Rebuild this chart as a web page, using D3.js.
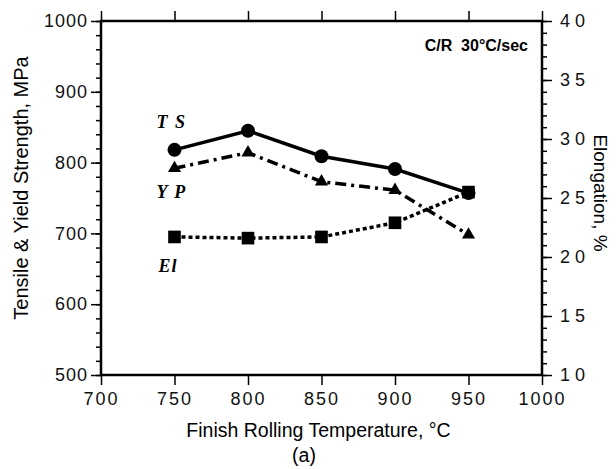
<!DOCTYPE html>
<html>
<head>
<meta charset="utf-8">
<script src="https://cdn.jsdelivr.net/npm/d3@7"></script>
<style>
  body { margin: 0; background: #fff; }
  svg { display: block; font-family: "Liberation Sans", Arial, sans-serif; }
</style>
</head>
<body>
<svg id="chart"></svg>
<script>
// data
const temps = [750, 800, 850, 900, 950];
const tsValues = [818, 845, 809, 791, 757];   // tensile strength, MPa
const ypValues = [792, 814, 773, 761, 698];   // yield point, MPa
const elValues = [21.7, 21.6, 21.7, 22.9, 25.5]; // elongation, %

const xTicks = [700, 750, 800, 850, 900, 950, 1000];
const leftTicks = [500, 600, 700, 800, 900, 1000];
const rightTicks = [10, 15, 20, 25, 30, 35, 40];

const width = 616, height = 469;
const margin = { top: 21, right: 74, bottom: 94, left: 101 };

const svg = d3.select('#chart')
  .attr('width', width)
  .attr('height', height);

const x = d3.scaleLinear().domain([700, 1000]).range([margin.left, width - margin.right]);
const y = d3.scaleLinear().domain([500, 1000]).range([height - margin.bottom, margin.top]);
const y2 = d3.scaleLinear().domain([10, 40]).range([height - margin.bottom, margin.top]);

const bottomY = height - margin.bottom;
const rightX = width - margin.right;
const fmt = d3.format('d');

// minor ticks
svg.append('g')
  .attr('transform', `translate(${margin.left},0)`)
  .call(d3.axisLeft(y).tickValues(d3.range(500, 1001, 20)).tickSize(5).tickFormat(''));
svg.append('g')
  .attr('transform', `translate(${rightX},0)`)
  .call(d3.axisRight(y2).tickValues(d3.range(10, 41, 1)).tickSize(5).tickFormat(''));

// major ticks + labels
const leftAxis = svg.append('g')
  .attr('transform', `translate(${margin.left},0)`)
  .call(d3.axisLeft(y).tickValues(leftTicks).tickSize(10).tickPadding(3).tickFormat(fmt));

const rightAxis = svg.append('g')
  .attr('transform', `translate(${rightX},0)`)
  .call(d3.axisRight(y2).tickValues(rightTicks).tickSize(10).tickPadding(8).tickFormat(fmt));

const bottomAxis = svg.append('g')
  .attr('transform', `translate(0,${bottomY})`)
  .call(d3.axisBottom(x).tickValues(xTicks).tickSize(10).tickPadding(7).tickFormat(fmt));

svg.append('g')
  .attr('transform', `translate(0,${margin.top})`)
  .call(d3.axisTop(x).tickValues(xTicks).tickSize(10).tickFormat(''));

svg.selectAll('.domain').remove();
svg.selectAll('.tick line').attr('stroke', '#000').attr('stroke-width', 1.5);
svg.selectAll('.tick text')
  .attr('fill', '#111')
  .style('font-size', '18px')
  .style('font-family', '"Liberation Sans", Arial, sans-serif');
leftAxis.selectAll('text').style('letter-spacing', '1px');
bottomAxis.selectAll('text').style('letter-spacing', '2px');
rightAxis.selectAll('text').style('letter-spacing', '5px');

// frame
svg.append('rect')
  .attr('x', margin.left)
  .attr('y', margin.top)
  .attr('width', rightX - margin.left)
  .attr('height', bottomY - margin.top)
  .attr('fill', 'none')
  .attr('stroke', '#000')
  .attr('stroke-width', 2.5);

// series lines
const lineL = d3.line().x((d, i) => x(temps[i])).y(d => y(d));
const lineR = d3.line().x((d, i) => x(temps[i])).y(d => y2(d));

svg.append('path').datum(tsValues)
  .attr('d', lineL).attr('fill', 'none').attr('stroke', '#000')
  .attr('stroke-width', 3.5);

svg.append('path').datum(ypValues)
  .attr('d', lineL).attr('fill', 'none').attr('stroke', '#000')
  .attr('stroke-width', 3.5).attr('stroke-dasharray', '11,5,3,5');

svg.append('path').datum(elValues)
  .attr('d', lineR).attr('fill', 'none').attr('stroke', '#000')
  .attr('stroke-width', 3.5).attr('stroke-dasharray', '4,3');

// markers
svg.append('g').selectAll('circle')
  .data(tsValues).enter().append('circle')
  .attr('cx', (d, i) => x(temps[i]))
  .attr('cy', d => y(d))
  .attr('r', 7)
  .attr('fill', '#000');

const tri = d3.symbol().type(d3.symbolTriangle).size(75);
svg.append('g').selectAll('path')
  .data(ypValues).enter().append('path')
  .attr('d', tri)
  .attr('transform', (d, i) => `translate(${x(temps[i])},${y(d)})`)
  .attr('fill', '#000');

const sq = d3.symbol().type(d3.symbolSquare).size(160);
svg.append('g').selectAll('path')
  .data(elValues).enter().append('path')
  .attr('d', sq)
  .attr('transform', (d, i) => `translate(${x(temps[i])},${y2(d)})`)
  .attr('fill', '#000');

// series labels
const serif = '"Liberation Serif", "DejaVu Serif", serif';
const seriesLabel = (txt, px, py, ls) => svg.append('text')
  .attr('x', px).attr('y', py)
  .style('font-family', serif)
  .style('font-style', 'italic')
  .style('font-weight', 'bold')
  .style('font-size', '18px')
  .style('letter-spacing', ls)
  .text(txt);

seriesLabel('T S', x(750) - 18, y(tsValues[0]) - 22, '1.5px');
seriesLabel('Y P', x(750) - 18, y(ypValues[0]) + 30, '1.5px');
seriesLabel('El', x(750) - 16, y2(elValues[0]) + 35, '1px');

// condition note
svg.append('text')
  .attr('x', 528).attr('y', 51)
  .attr('text-anchor', 'end')
  .style('font-weight', 'bold')
  .style('font-size', '16px')
  .style('white-space', 'pre')
  .text('C/R  30°C/sec');

// axis titles
svg.append('text')
  .attr('x', (margin.left + rightX) / 2 - 3)
  .attr('y', 437)
  .attr('text-anchor', 'middle')
  .style('font-size', '19.5px')
  .text('Finish Rolling Temperature, °C');

svg.append('text')
  .attr('x', 304)
  .attr('y', 462)
  .attr('text-anchor', 'middle')
  .style('font-size', '19.5px')
  .text('(a)');

svg.append('text')
  .attr('transform', `translate(28,${(margin.top + bottomY) / 2 - 10}) rotate(-90)`)
  .attr('text-anchor', 'middle')
  .style('font-size', '20px')
  .text('Tensile & Yield Strength, MPa');

svg.append('text')
  .attr('transform', `translate(594,${(margin.top + bottomY) / 2 - 5}) rotate(90)`)
  .attr('text-anchor', 'middle')
  .style('font-size', '19px')
  .text('Elongation, %');
</script>
</body>
</html>
